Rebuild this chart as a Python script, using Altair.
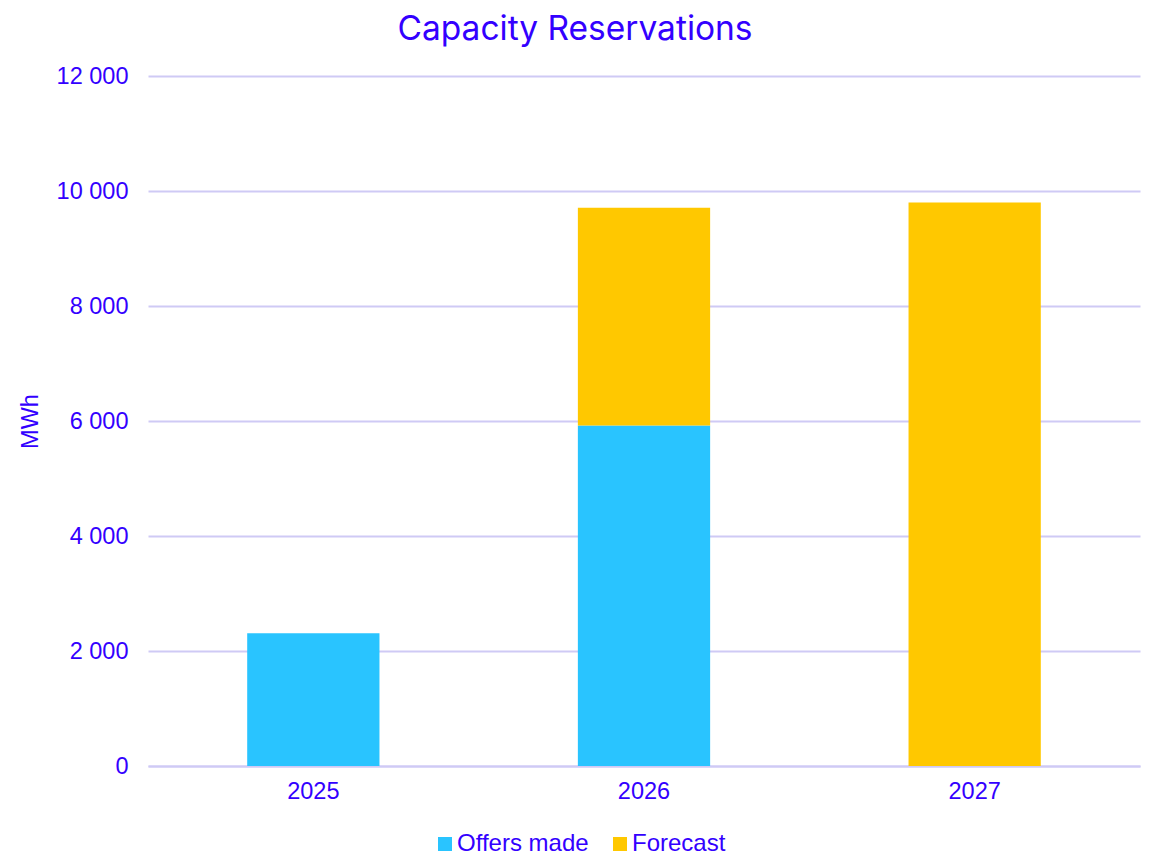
import altair as alt
import pandas as pd

years = ["2025", "2026", "2027"]
offers_made = [2310, 5920, 0]
forecast = [0, 3790, 9800]
series_names = ["Offers made", "Forecast"]
colors = ["#29C4FF", "#FFC800"]

rows = []
for i, y in enumerate(years):
    rows.append({"year": y, "series": series_names[0], "value": offers_made[i], "ord": 0})
    rows.append({"year": y, "series": series_names[1], "value": forecast[i], "ord": 1})
df = pd.DataFrame(rows)

text_color = "#3300FF"
grid_color = "#CFCAF5"
font = "Liberation Sans"

chart = alt.Chart(df).mark_bar().encode(
    x=alt.X("year:N", title=None, sort=years,
            scale=alt.Scale(paddingInner=0.6, paddingOuter=0.3),
            axis=alt.Axis(labelAngle=0, labelFontSize=23.5, labelColor=text_color, labelFont=font,
                          ticks=False, domainColor=grid_color, domainWidth=2, labelPadding=13)),
    y=alt.Y("value:Q", stack="zero", title="MWh",
            scale=alt.Scale(domain=[0, 12000]),
            axis=alt.Axis(values=[0, 2000, 4000, 6000, 8000, 10000, 12000],
                          labelExpr="replace(format(datum.value, ','), ',', ' ')",
                          labelFontSize=23.5, labelColor=text_color, labelFont=font,
                          titleFontSize=23.5, titleColor=text_color, titleFont=font, titleFontWeight="normal",
                          titlePadding=14,
                          ticks=False, domain=False, gridColor=grid_color, gridWidth=2, labelPadding=20)),
    color=alt.Color("series:N", sort=series_names,
                    scale=alt.Scale(domain=series_names, range=colors),
                    legend=alt.Legend(title=None, orient="none", direction="horizontal",
                                      legendX=285, legendY=756,
                                      symbolType="square", symbolSize=196, symbolStrokeWidth=0,
                                      labelFontSize=24, labelColor=text_color, labelFont=font,
                                      columnPadding=19, symbolOffset=0, labelOffset=0)),
    order=alt.Order("ord:Q", sort="ascending"),
).properties(
    width=992, height=690,
    title=alt.TitleParams("Capacity Reservations", fontSize=33.5, color=text_color,
                          font="Inter", fontWeight="normal", anchor="middle", frame="group",
                          dx=-69, offset=17),
    padding={"left": 10, "top": 4, "right": 7, "bottom": 5},
).configure_view(stroke=None)

chart.save("out.html", embed_options={"renderer": "svg", "actions": False})
